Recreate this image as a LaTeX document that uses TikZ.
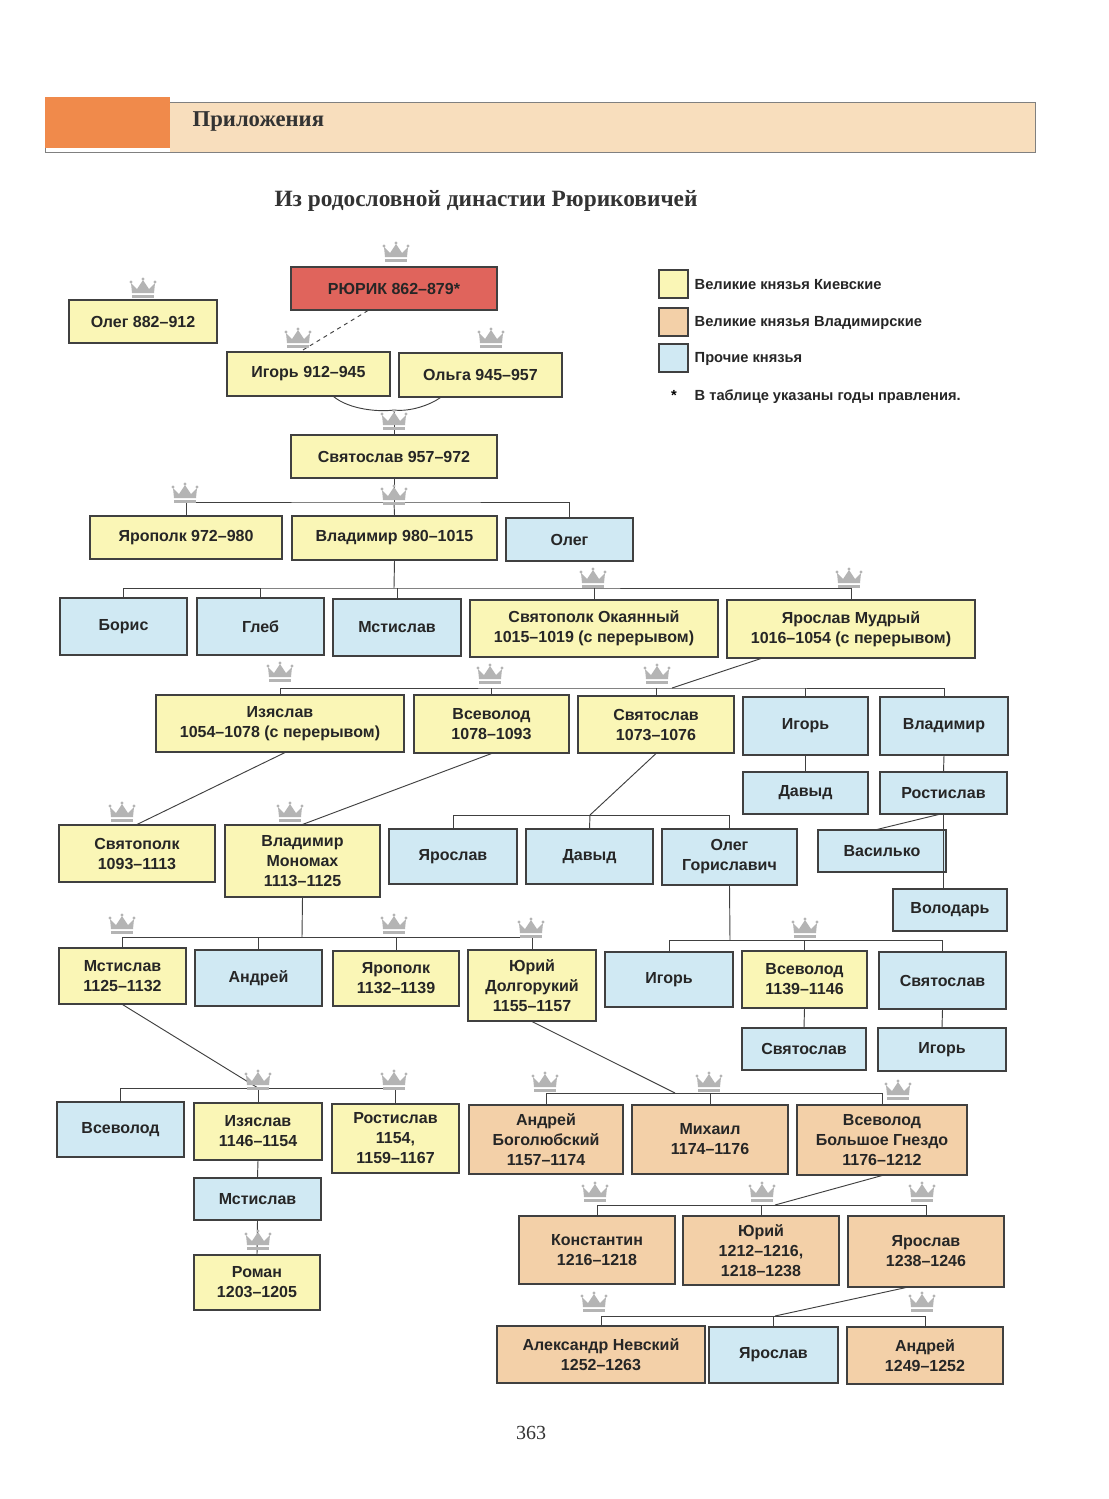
\documentclass[tikz,border=0pt]{standalone}
\usepackage{fontspec}
\setmainfont{Liberation Sans}
\newfontfamily\serif{Liberation Serif}
\usetikzlibrary{calc}
\definecolor{cy}{HTML}{FAF6B6}
\definecolor{co}{HTML}{F3D0A8}
\definecolor{cb}{HTML}{D0E9F3}
\definecolor{cr}{HTML}{E0645C}
\definecolor{hor}{HTML}{F08A4B}
\definecolor{hband}{HTML}{F8DEBD}
\definecolor{crg}{HTML}{B4B4B4}
\tikzset{
 box/.style={draw=black!75,line width=0.8pt,inner sep=0pt,align=center,font=\bfseries\fontsize{12}{15}\selectfont,text=black!85},
 ln/.style={draw=black!75,line width=0.7pt},
 crown/.pic={\fill[crg] (-11,5)--(-12,-5)--(-6,1)--(0,-8)--(6,1)--(12,-5)--(11,5)--cycle;
   \fill[crg] (-12,-6) circle (1.6) (0,-9) circle (1.6) (12,-6) circle (1.6);
   \fill[crg] (-11,7) rectangle (11,10);}
}
\newcommand\bx[7]{\node[box,fill=#6,minimum width={(#4-#2)*0.75pt},minimum height={(#5-#3)*0.75pt}] (#1) at ({(#2+#4)/2},{(#3+#5)/2}) {#7};}
\begin{document}
\begin{tikzpicture}[x=0.75pt,y=-0.75pt]
\useasboundingbox (0,0) rectangle (1109,1499);
\fill[white] (0,0) rectangle (1109,1499);
% header
\fill[hband] (170,102) rectangle (1035,152);
\draw[black!50] (45,102) rectangle (1035,152);
\fill[hor] (45,97) rectangle (170,148);
\node[anchor=west,font=\serif\bfseries\fontsize{17}{20}\selectfont,text=black!80] (hdr) at (188,121) {Приложения};
\node[font=\serif\bfseries\fontsize{17.5}{20}\selectfont,text=black!80] (ttl) at (486,201) {Из родословной династии Рюриковичей};
% legend
\node[box,fill=cy,minimum width=21.75pt,minimum height=21pt] (ly) at (673.5,284) {};
\node[box,fill=co,minimum width=21.75pt,minimum height=21pt] (lo) at (673.5,322) {};
\node[box,fill=cb,minimum width=21.75pt,minimum height=21pt] (lb) at (673.5,358) {};
\node[anchor=west,font=\bfseries\fontsize{11}{13}\selectfont,text=black!85] (lty) at (690,285) {Великие князья Киевские};
\node[anchor=west,font=\bfseries\fontsize{11}{13}\selectfont,text=black!85] (lto) at (690,323) {Великие князья Владимирские};
\node[anchor=west,font=\bfseries\fontsize{11}{13}\selectfont,text=black!85] (ltb) at (690,359) {Прочие князья};
\node[font=\bfseries\fontsize{11}{13}\selectfont] (ast) at (674,395) {*};
\node[anchor=west,font=\bfseries\fontsize{11}{13}\selectfont,text=black!85] (ltn) at (690,397) {В таблице указаны годы правления.};
% boxes
\bx{rur}{291}{267}{497}{310}{cr}{РЮРИК 862–879*}
\bx{oleg}{69}{300}{217}{343}{cy}{Олег 882–912}
\bx{igor}{227}{352}{390}{396}{cy}{Игорь 912–945}
\bx{olga}{399}{353}{562}{397}{cy}{Ольга 945–957}
\bx{svy}{291}{435}{497}{478}{cy}{Святослав 957–972}
\bx{yrp}{90}{516}{282}{559}{cy}{Ярополк 972–980}
\bx{vld}{292}{516}{497}{560}{cy}{Владимир 980–1015}
\bx{olg2}{506}{518}{633}{561}{cb}{Олег}
\bx{bor}{60}{598}{187}{655}{cb}{Борис}
\bx{gleb}{197}{598}{324}{655}{cb}{Глеб}
\bx{mst}{333}{599}{461}{656}{cb}{Мстислав}
\bx{svo}{470}{600}{718}{657}{cy}{Святополк Окаянный\\1015–1019 (с перерывом)}
\bx{yam}{727}{600}{975}{658}{cy}{Ярослав Мудрый\\1016–1054 (с перерывом)}
\bx{izy}{156}{695}{404}{752}{cy}{Изяслав\\1054–1078 (с перерывом)}
\bx{vsv}{414}{695}{569}{753}{cy}{Всеволод\\1078–1093}
\bx{svt}{578}{696}{734}{753}{cy}{Святослав\\1073–1076}
\bx{igr}{743}{697}{868}{755}{cb}{Игорь}
\bx{vlr}{880}{697}{1008}{755}{cb}{Владимир}
\bx{dvd}{743}{772}{868}{814}{cb}{Давыд}
\bx{rst}{880}{772}{1007}{814}{cb}{Ростислав}
\bx{svp}{59}{825}{215}{882}{cy}{Святополк\\1093–1113}
\bx{mon}{225}{825}{380}{897}{cy}{Владимир\\Мономах\\1113–1125}
\bx{yrs}{389}{829}{517}{884}{cb}{Ярослав}
\bx{dvd2}{526}{829}{653}{884}{cb}{Давыд}
\bx{ogr}{662}{829}{797}{885}{cb}{Олег\\Гориславич}
\bx{vas}{818}{830}{946}{872}{cb}{Василько}
\bx{vol}{893}{889}{1007}{931}{cb}{Володарь}
\bx{msv}{59}{948}{186}{1004}{cy}{Мстислав\\1125–1132}
\bx{and}{195}{950}{322}{1006}{cb}{Андрей}
\bx{yrp2}{333}{951}{459}{1006}{cy}{Ярополк\\1132–1139}
\bx{yur}{468}{950}{596}{1021}{cy}{Юрий\\Долгорукий\\1155–1157}
\bx{igr2}{605}{952}{733}{1007}{cb}{Игорь}
\bx{vsv2}{742}{951}{867}{1008}{cy}{Всеволод\\1139–1146}
\bx{svt2}{879}{952}{1006}{1009}{cb}{Святослав}
\bx{svt3}{742}{1028}{866}{1070}{cb}{Святослав}
\bx{igr3}{878}{1028}{1006}{1071}{cb}{Игорь}
\bx{vsv3}{57}{1102}{184}{1157}{cb}{Всеволод}
\bx{izy2}{194}{1103}{322}{1160}{cy}{Изяслав\\1146–1154}
\bx{rst2}{332}{1104}{459}{1173}{cy}{Ростислав\\1154,\\1159–1167}
\bx{anb}{469}{1105}{623}{1174}{co}{Андрей\\Боголюбский\\1157–1174}
\bx{mih}{632}{1105}{788}{1174}{co}{Михаил\\1174–1176}
\bx{vbg}{797}{1105}{967}{1175}{co}{Всеволод\\Большое Гнездо\\1176–1212}
\bx{mst3}{194}{1178}{321}{1220}{cb}{Мстислав}
\bx{rom}{194}{1255}{320}{1310}{cy}{Роман\\1203–1205}
\bx{kon}{519}{1216}{675}{1284}{co}{Константин\\1216–1218}
\bx{yur2}{683}{1216}{839}{1285}{co}{Юрий\\1212–1216,\\1218–1238}
\bx{yrs2}{848}{1216}{1004}{1287}{co}{Ярослав\\1238–1246}
\bx{aln}{497}{1326}{705}{1383}{co}{Александр Невский\\1252–1263}
\bx{yrs3}{709}{1327}{838}{1383}{cb}{Ярослав}
\bx{and2}{847}{1327}{1003}{1384}{co}{Андрей\\1249–1252}
% connectors
\draw[ln,dashed] ($(rur.south)+(-26,0)$) -- ($(igor.north)+(-8,0)$);
\coordinate (arc) at (394,410);
\draw[ln] ($(igor.south)+(25,0)$) .. controls (350,410) and (380,412) .. (arc) .. controls (410,412) and (430,405) .. ($(olga.south)+(-40,0)$);
\draw[ln] (arc) -- (svy.north);
\coordinate (b1) at (394,502);
\draw[ln] (svy.south) -- (b1); \draw[ln] (yrp.north) |- (b1) -| (olg2.north); \draw[ln] (b1) -- (vld.north);
\coordinate (b2) at (394,588);
\draw[ln] (vld.south) -- (b2); \draw[ln] (bor.north) |- (b2) -| (yam.north);
\draw[ln] (gleb.north) -- (gleb.north |- b2); \draw[ln] (mst.north) -- (mst.north |- b2); \draw[ln] (svo.north) -- (svo.north |- b2);
\coordinate (b3) at (672,688);
\draw[ln] ($(yam.south)+(-90,0)$) -- (b3);
\draw[ln] (izy.north) |- (b3) -| (vlr.north);
\draw[ln] (vsv.north) -- (vsv.north |- b3); \draw[ln] (svt.north) -- (svt.north |- b3); \draw[ln] (igr.north) -- (igr.north |- b3);
\draw[ln] (igr.south) -- (dvd.north); \draw[ln] (vlr.south) -- (rst.north);
\draw[ln] ($(izy.south)+(5,0)$) -- ($(svp.north)+(0,0)$);
\draw[ln] (vsv.south) -- (mon.north);
\coordinate (b4) at (590,815);
\draw[ln] (svt.south) -- (b4); \draw[ln] (yrs.north) |- (b4) -| (ogr.north); \draw[ln] (dvd2.north) -- (b4);
\draw[ln] ($(rst.south)+(-5,0)$) -- ($(vas.north)+(-5,0)$);
\draw[ln] ($(rst.south)+(0,0)$) -- (rst.south |- vol.north);
\coordinate (b5) at (302,937);
\draw[ln] (mon.south) -- (b5); \draw[ln] (msv.north) |- (b5) -| (yur.north);
\draw[ln] (and.north) -- (and.north |- b5); \draw[ln] (yrp2.north) -- (yrp2.north |- b5);
\coordinate (b6) at (730,940);
\draw[ln] (ogr.south) -- (b6); \draw[ln] (igr2.north) |- (b6) -| (svt2.north); \draw[ln] (vsv2.north) -- (vsv2.north |- b6);
\draw[ln] (vsv2.south) -- (svt3.north); \draw[ln] (svt2.south) -- (igr3.north);
\coordinate (b7) at (258,1088);
\draw[ln] (msv.south) -- (b7); \draw[ln] (vsv3.north) |- (b7) -| (rst2.north); \draw[ln] (b7) -- (izy2.north);
\draw[ln] (izy2.south) -- (mst3.north); \draw[ln] (mst3.south) -- (rom.north);
\coordinate (b8) at (675,1093);
\draw[ln] (yur.south) -- (b8); \draw[ln] (anb.north) |- (b8) -| (vbg.north); \draw[ln] (mih.north) -- (mih.north |- b8);
\coordinate (b9) at (775,1205);
\draw[ln] (vbg.south) -- (b9); \draw[ln] (kon.north) |- (b9) -| (yrs2.north); \draw[ln] (yur2.north) -- (yur2.north |- b9);
\coordinate (b10) at (775,1316);
\draw[ln] ($(yrs2.south)+(-20,0)$) -- (b10); \draw[ln] (aln.north) |- (b10) -| (and2.north); \draw[ln] (yrs3.north) -- (yrs3.north |- b10);
% crowns
\foreach \p in {(396,252),(143,288),(298,338),(491,338),(394,420),(185,493),(394,495),(593,578),(849,578),(280,672),(490,674),(657,674),(122,812),(290,812),(122,924),(394,924),(531,928),(805,928),(258,1080),(394,1080),(545,1082),(709,1082),(898,1090),(595,1192),(762,1192),(922,1192),(258,1240),(594,1302),(922,1302)}
  \pic at \p {crown};
\node[font=\serif\fontsize{15}{18}\selectfont,text=black!80] (pg) at (531,1433) {363};
\end{tikzpicture}
\end{document}
